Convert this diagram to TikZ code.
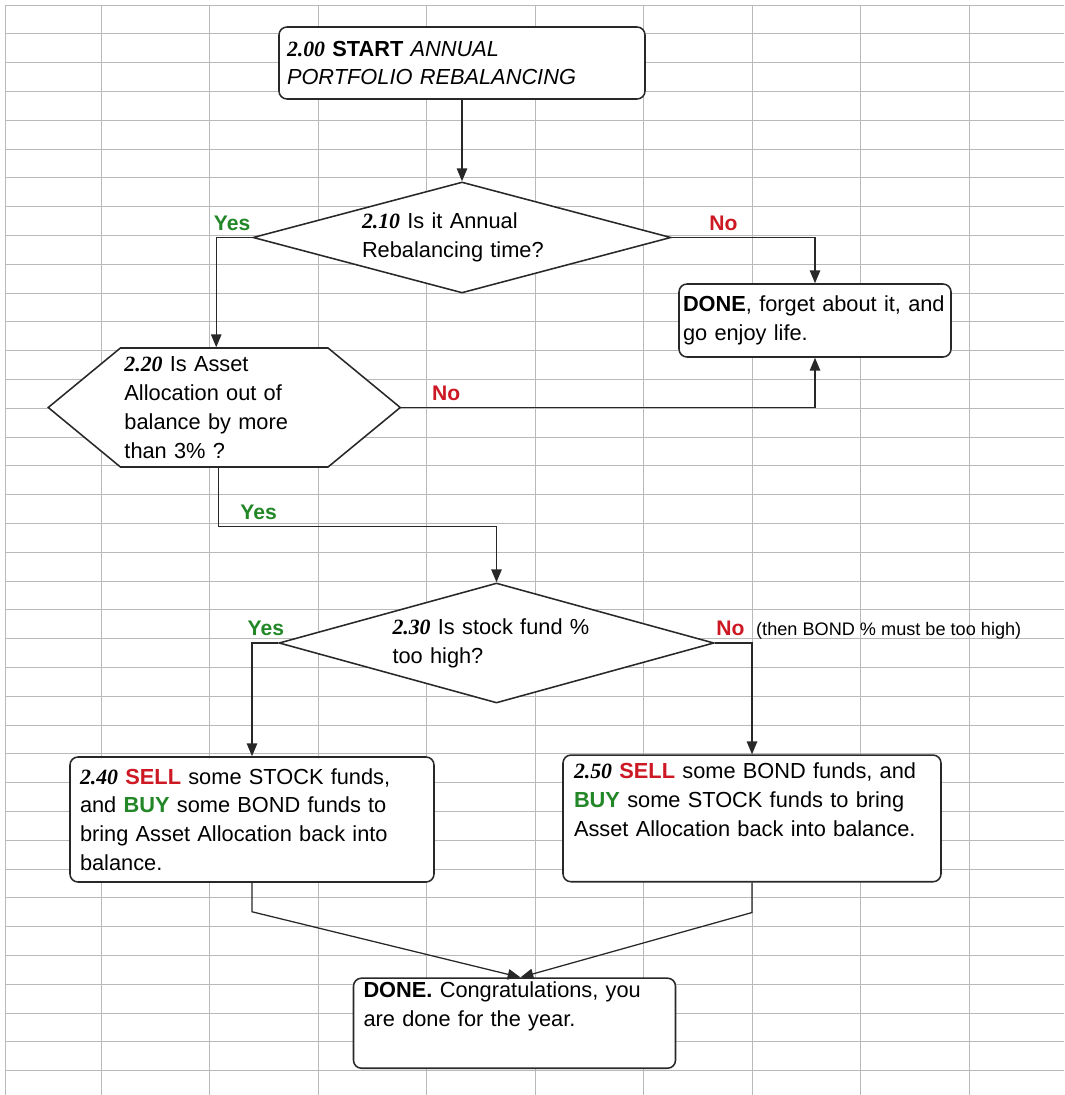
\documentclass[tikz,border=0pt]{standalone}
\usepackage{fontspec}
\setmainfont{Liberation Sans}
\newfontfamily\numfont{Liberation Serif}
\usepackage{tikz}
\usetikzlibrary{shapes.geometric}
\usetikzlibrary{shapes.symbols}
\usetikzlibrary{arrows.meta}
\usetikzlibrary{positioning}

\definecolor{yesgreen}{RGB}{35,135,40}
\definecolor{nored}{RGB}{205,25,35}
\definecolor{gridgray}{RGB}{185,185,185}
\definecolor{linedark}{RGB}{40,40,40}

\newcommand{\stepno}[1]{{\numfont\bfseries\itshape #1}}
\newcommand{\sellword}{\textbf{\textcolor{nored}{SELL}}}
\newcommand{\buyword}{\textbf{\textcolor{yesgreen}{BUY}}}

\tikzset{
    gridline/.style={draw=gridgray, line width=0.6pt},
    boxtext/.style={font=\fontsize{15.5}{20.5}\selectfont},
    flowbox/.style={boxtext, draw=linedark, line width=1.1pt, fill=white, rounded corners=0.2cm, align=left, inner ysep=0.1cm},
    decision/.style={boxtext, diamond, draw=linedark, line width=1.1pt, fill=white, inner sep=0pt, align=left},
    prepbox/.style={boxtext, signal, signal to=east and west, draw=linedark, line width=1.1pt, fill=white, inner sep=0pt, align=left},
    flowline/.style={draw=linedark, line width=0.9pt, ->},
    yeslabel/.style={text=yesgreen, font=\bfseries\fontsize{15}{18}\selectfont, inner sep=2pt, text depth=0.1cm},
    nolabel/.style={text=nored, font=\bfseries\fontsize{15}{18}\selectfont, inner sep=2pt, text depth=0.1cm},
    notetext/.style={font=\fontsize{12.9}{15}\selectfont, inner sep=0pt}
}

\begin{document}
\begin{tikzpicture}[>={Triangle[length=0.32cm,width=0.26cm]}]
    \useasboundingbox (0,0) rectangle (26.6,-27.375);
    \fill[white] (0,0) rectangle (26.6,-27.375);

    % spreadsheet grid
    \draw[gridline] (0.125,-0.125) -- (0.125,-27.375);
    \foreach \x in {0,...,8}
        \draw[gridline] ({2.525+2.71375*\x},-0.125) -- ({2.525+2.71375*\x},-27.375);
    \foreach \y in {0,...,37}
        \draw[gridline] (0.125,{-0.125-0.72*\y}) -- (26.6,{-0.125-0.72*\y});

    % steps
    \node[flowbox, minimum height=1.8cm, inner xsep=0.2cm, text width=8.75cm] (start) at (11.55,-1.575) {\stepno{2.00} \textbf{START} \textit{ANNUAL}\\\textit{PORTFOLIO REBALANCING}};
    \node[decision, shape aspect=3.77, minimum width=10.45cm, minimum height=2.775cm, text width=5cm] (q210) at (11.55,-5.9375) {\stepno{2.10} Is it Annual\\Rebalancing time?};
    \node[flowbox, minimum height=1.825cm, inner xsep=0.1cm, text width=6.6cm] (done1) at (20.375,-8.0125) {\textbf{DONE}, forget about it, and\\go enjoy life.};
    \node[prepbox, signal pointer angle=79, minimum width=8.8cm, minimum height=2.975cm, text width=4.99cm] (q220) at (5.606,-10.1875) {\stepno{2.20} Is Asset\\Allocation out of\\balance by more\\than 3\% ?};
    \node[decision, shape aspect=3.625, minimum width=10.875cm, minimum height=3cm, text width=5.2cm] (q230) at (12.4125,-16.075) {\stepno{2.30} Is stock fund \%\\too high?};
    \node[flowbox, minimum height=3.125cm, inner xsep=0.25cm, text width=8.6cm] (sell240) at (6.3,-20.4875) {\stepno{2.40} \sellword{} some STOCK funds,\\and \buyword{} some BOND funds to\\bring Asset Allocation back into\\balance.};
    \node[flowbox, minimum height=3.1675cm, inner xsep=0.275cm, text width=8.9cm] (sell250) at (18.8,-20.46) {\stepno{2.50} \sellword{} some BOND funds, and\\\buyword{} some STOCK funds to bring\\Asset Allocation back into balance.\\\strut};
    \node[flowbox, minimum height=2.2075cm, inner xsep=0.25cm, text width=7.55cm] (done2) at (12.8625,-25.58) {\textbf{DONE.} Congratulations, you\\are done for the year.\\\strut};

    % connectors
    \draw[flowline] (start) -- (q210);
    \draw[flowline] (q210.west) -| ([xshift=-0.2cm]q220.north) node[yeslabel, pos=0.28, above] (yes210) {Yes};
    \draw[flowline] (q210.east) -| (done1.north) node[nolabel, pos=0.18, above] (no210) {No};
    \draw[flowline] (q220.east) -| (done1.south) node[nolabel, pos=0.054, above] (no220) {No};
    \draw[flowline] ([xshift=-0.14cm]q220.south) -- ++(0,-1.475) -| (q230.north) node[yeslabel, pos=0.072, above] (yes220) {Yes};
    \draw[flowline] (q230.west) -| (sell240.north) node[yeslabel, pos=0.235, above] (yes230) {Yes};
    \draw[flowline] (q230.east) -| (sell250.north) node[nolabel, pos=0.21, above] (no230) {No};
    \node[notetext, base right=0.2cm of no230] (note230) {(then BOND \% must be too high)};
    \draw[flowline] (sell240.south) -- ++(0,-0.725) -- ([xshift=0.15cm]done2.north);
    \draw[flowline] (sell250.south) -- ++(0,-0.75) -- ([xshift=0.15cm]done2.north);
\end{tikzpicture}
\end{document}
